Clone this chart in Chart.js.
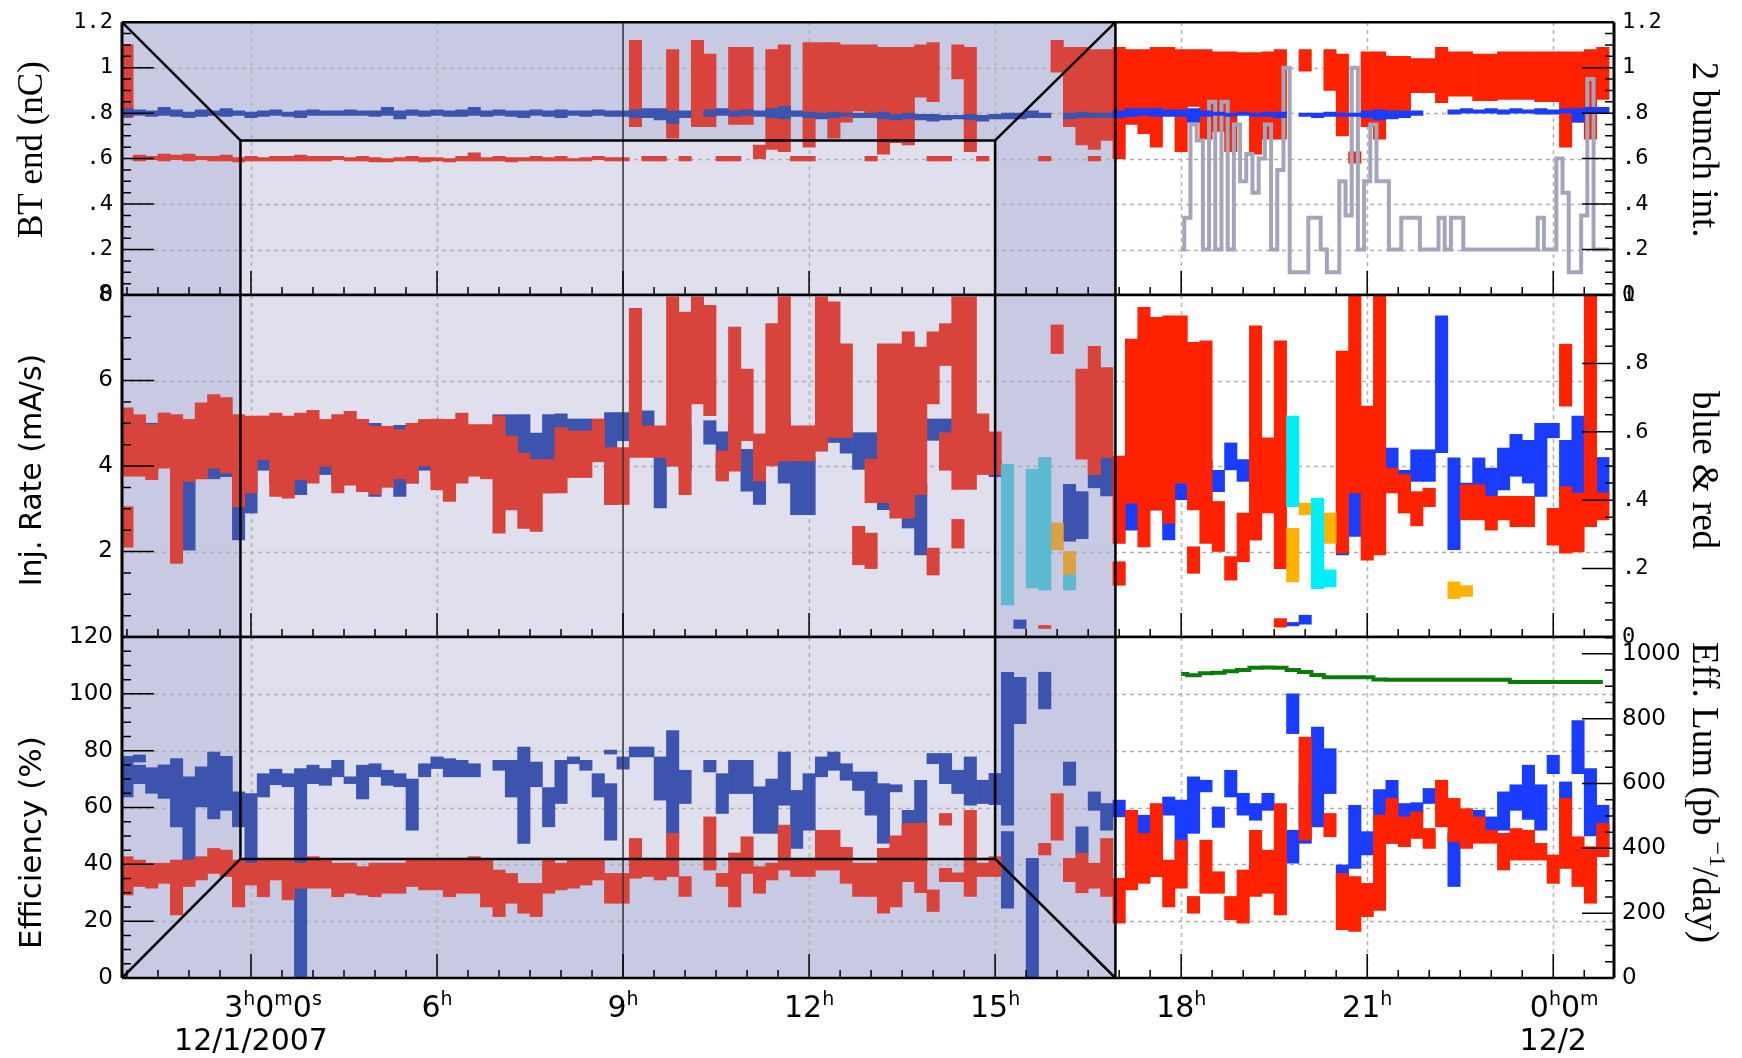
<!DOCTYPE html>
<html>
<head>
<meta charset="utf-8">
<script src="https://cdn.jsdelivr.net/npm/chart.js@4.4.1/dist/chart.umd.min.js"></script>
<style>
html, body { margin: 0; padding: 0; background: #fff; }
#wrap { position: relative; width: 1742px; height: 1058px; }
#wrap canvas { position: absolute; left: 0; top: 0; }
</style>
</head>
<body>
<div id="wrap">
  <canvas id="bt" width="1742" height="1058"></canvas>
  <canvas id="inj" width="1742" height="1058"></canvas>
  <canvas id="eff" width="1742" height="1058"></canvas>
</div>
<script>
// time axis in hours since 0h 12/1 (24 = 0h 12/2)
const tMin = 0.92, tMax = 24.98;
const binStart = 1.0, binStep = 0.2;      // bins are 12 min wide
const splitAt = 16.94;                    // shaded history | white detail view
const boxX = [2.83, 15.0];                // inner face of the 3D box

const timeTicks = [3, 6, 9, 12, 15, 18, 21, 24];
const timeLabels = ['3h0m0s', '6h', '9h', '12h', '15h', '18h', '21h', '0h0m'];
const dateLabels = { 3: '12/1/2007', 24: '12/2' };

// ---- BT end (nC), [low, high] per bin ----
const btRed = [
  [.78,1.10],[.59,.615],[.595,.61],[.59,.62],[.595,.615],[.59,.62],[.595,.61],[.59,.61],[.59,.615],[.585,.605],
  [.59,.61],[.59,.605],[.59,.61],[.59,.61],[.59,.615],[.59,.61],[.59,.61],[.595,.61],[.59,.605],[.59,.61],
  [.585,.605],[.585,.60],[.59,.605],[.59,.61],[.585,.605],[.59,.605],[.585,.60],[.59,.61],[.59,.625],[.59,.605],
  [.59,.61],[.585,.605],[.59,.605],[.59,.61],[.59,.605],[.59,.61],[.59,.60],[.59,.605],[.595,.61],[.59,.605],
  [.59,.605],[.74,1.12],[.59,.61],[.59,.61],[.69,1.08],[.59,.61],[.74,1.12],[.74,1.06],[.59,.61],[.75,1.09],
  [.75,1.09],[.60,.66],[.64,1.08],[.63,1.10],[.59,.61],[.65,1.11],[.78,1.11],[.69,1.11],[.76,1.10],[.81,1.10],
  [.80,1.10],[.62,1.09],[.67,1.09],[.66,1.09],[.87,1.10],[.85,1.11],[.59,.61],[.95,1.10],[.63,1.09],[.59,.61],
  null,null,null,null,[.59,.61],[.98,1.12],[.74,1.09],[.66,1.09],[.64,1.08],[.68,1.08],
  [.60,1.09],[.75,1.08],[.71,1.08],[.65,1.09],[.79,1.09],[.63,1.08],[.83,1.08],[.685,1.08],[.72,1.07],[.63,1.07],
  [.80,1.066],[.62,1.066],[.685,1.07],[.685,1.08],null,[.985,1.08],null,[.90,1.08],[.70,1.06],[.58,.63],
  [.74,1.07],[.685,1.07],[.80,1.05],[.80,1.05],[.89,1.04],[.89,1.04],[.846,1.09],[.875,1.07],[.875,1.07],[.855,1.06],
  [.855,1.06],[.86,1.07],[.86,1.07],[.86,1.07],[.85,1.07],[.85,1.07],[.65,1.07],[.76,1.07],[.685,1.08],[.86,1.09]
];
// extra short pieces that sit under a tall bar in the same bin: [hour, low, high]
const btRedLow = [[10.8,.59,.61],[12.0,.59,.61],[13.0,.59,.61],[14.0,.59,.61],[16.6,.59,.61]];
const btBlue = [
  [.785,.82],[.79,.815],[.785,.81],[.79,.825],[.785,.815],[.78,.805],[.785,.815],[.79,.81],[.785,.82],[.79,.81],
  [.78,.805],[.785,.81],[.79,.815],[.785,.805],[.78,.81],[.79,.815],[.79,.81],[.79,.81],[.79,.815],[.79,.81],
  [.785,.81],[.79,.825],[.775,.81],[.79,.815],[.785,.81],[.79,.815],[.785,.81],[.785,.815],[.79,.825],[.785,.81],
  [.79,.815],[.785,.81],[.78,.81],[.79,.815],[.785,.81],[.78,.815],[.79,.81],[.785,.81],[.79,.815],[.785,.81],
  [.785,.81],[.78,.815],[.78,.82],[.77,.82],[.755,.81],[.78,.81],null,[.785,.815],[.79,.82],[.785,.81],
  [.79,.815],[.785,.81],[.78,.82],[.775,.83],[.785,.81],[.78,.805],[.775,.80],[.78,.805],[.785,.80],[.78,.80],
  [.78,.80],[.775,.805],[.77,.795],[.775,.80],[.77,.795],[.765,.795],[.77,.79],[.775,.79],[.77,.795],[.765,.79],
  [.775,.795],[.775,.80],[.775,.80],[.78,.81],[.78,.80],null,[.775,.80],[.78,.805],[.78,.80],[.78,.80],
  [.78,.81],[.785,.82],[.79,.82],[.785,.82],[.785,.815],[.785,.815],[.76,.82],[.785,.81],[.79,.805],[.785,.80],
  [.79,.805],[.785,.80],[.785,.805],[.78,.805],null,[.785,.80],[.78,.80],[.785,.805],[.785,.80],[.785,.80],
  [.78,.81],[.77,.815],[.775,.81],[.78,.81],[.79,.81],null,null,[.795,.815],[.80,.82],[.80,.815],
  [.80,.82],[.795,.815],[.80,.82],[.80,.815],[.795,.82],[.795,.815],[.80,.82],[.76,.82],[.80,.825],[.80,.825]
];
// 2 bunch intensity, every 6 min from 18h
const bunchStart = 18.0, bunchStep = 0.1;
const bunchInt = [
  .2,.34,.75,.68,.2,.85,.2,.85,.2,.75,
  .5,.62,.45,.6,.75,.2,.55,1.0,.1,.1,
  .1,.34,.34,.2,.1,.1,.5,.35,1.0,.2,
  .5,.75,.5,.5,.2,.2,.34,.34,.34,.2,
  .2,.2,.34,.2,.34,.34,.2,.2,.2,.2,
  .2,.2,.2,.2,.2,.2,.2,.2,.34,.2,
  .2,.6,.45,.1,.1,.35,.95,.2,.2,.2
];

// ---- Inj. Rate (mA/s) ----
const injRed = [
  [3.76,5.36],[3.76,5.2],[3.68,4.97],[3.95,5.24],[1.72,5.2],[3.64,5.09],[3.7,5.48],[3.95,5.67],[3.84,5.6],[3.05,5.2],
  [3.37,5.17],[4.15,5.17],[3.29,5.24],[3.25,5.17],[3.68,5.24],[3.6,5.3],[3.99,5.09],[3.37,5.2],[3.55,5.28],[3.4,5.09],
  [3.33,4.93],[3.5,4.93],[3.7,4.85],[3.6,5.0],[4.0,5.09],[3.44,5.1],[3.17,5.09],[3.6,5.24],[3.76,4.97],[3.7,4.97],
  [2.43,5.17],[2.97,4.7],[2.54,4.3],[2.47,4.15],[3.37,4.15],[3.37,4.9],[3.73,4.82],[3.73,4.82],[4.1,5.1],[3.1,4.43],
  [3.1,4.43],[4.2,7.69],[4.2,4.94],[4.2,4.94],[4.0,7.96],[3.33,7.6],[5.45,7.96],[5.18,7.76],[3.65,4.35],[3.88,7.25],
  [4.59,6.27],[3.65,4.75],[4.0,7.33],[4.12,7.96],[4.12,4.94],[4.12,4.94],[4.35,7.96],[4.67,7.84],[4.67,6.86],[1.69,2.59],
  [1.6,2.43],[3.14,6.86],[2.78,6.86],[2.78,7.14],[3.33,6.78],[5.45,7.14],[6.35,7.33],[3.45,7.96],[3.45,7.96],[3.8,5.22],
  [3.8,4.8],null,null,null,null,[6.63,7.3],null,[4.16,6.27],[3.8,6.8],[4.2,6.3],
  [2.19,4.23],[3.13,6.97],[2.11,7.71],[2.97,7.48],[2.66,7.51],[3.6,7.51],[2.97,6.89],[2.19,6.93],[2.0,3.17],[1.33,1.88],
  [1.76,2.9],[2.27,7.28],[2.9,4.66],[1.6,6.93],null,null,null,null,[1.96,6.69],[3.37,8.0],
  [1.8,5.4],[1.92,8.0],[3.37,3.95],[2.9,3.8],[2.6,3.4],[3.05,3.48],null,null,[2.74,3.56],[2.74,3.56],
  [2.5,3.29],[2.74,3.29],[2.58,3.29],[2.58,3.29],null,[2.15,3.01],[1.96,3.52],[1.99,3.37],[2.58,8.0],[2.74,3.37]
];
const injRedExtra = [[1.0,2.1,3.05],[13.0,3.14,4.16],[14.0,1.45,2.08],[14.2,3.9,4.78],[14.4,2.08,2.75],
  [15.8,0.2,0.27],[17.0,1.21,1.76],[18.2,1.49,2.11],[19.6,0.23,0.43],[24.2,5.4,6.85]];
const injBlue = [
  [4.03,5.24],[4.0,5.1],[3.9,5.0],[4.0,5.0],[3.4,5.0],[2.03,4.9],[3.8,4.9],[3.7,4.58],[3.75,4.7],[2.27,4.4],
  [2.9,4.2],[3.9,4.9],[3.6,4.9],[3.33,4.8],[3.33,4.9],[3.8,4.9],[3.8,4.9],[3.6,4.9],[3.7,4.9],[3.5,5.0],
  [3.29,5.0],[3.6,4.9],[3.29,4.95],[3.6,4.9],[3.9,5.0],[3.7,5.0],[3.4,5.05],[3.7,4.9],[3.8,4.9],[3.8,4.9],
  [3.9,5.2],[4.1,5.2],[2.97,5.2],[3.37,4.77],[3.37,5.2],[4.12,5.22],[4.12,5.1],[4.12,5.1],[4.1,5.09],[3.1,5.25],
  [4.59,5.25],[4.9,5.29],[4.9,5.29],[3.02,4.82],[4.0,4.5],[3.9,4.9],null,[4.51,5.06],[3.7,4.8],[4.3,4.95],
  [3.41,4.39],[3.1,3.92],null,[3.6,5.06],[2.86,4.2],[2.86,4.2],[4.35,4.94],[4.55,4.94],[4.3,4.9],[3.92,4.78],
  [3.92,4.78],[2.98,4.5],[3.3,4.2],[2.55,3.8],[1.92,3.57],[4.6,5.1],[4.6,5.1],[3.9,4.78],[3.9,4.78],null,
  [3.75,4.1],null,[0.2,0.4],null,null,null,[2.24,3.57],[2.3,3.4],[3.49,4.24],[3.3,4.2],
  [3.48,3.91],[2.5,4.03],[2.97,4.11],[2.97,3.9],[2.27,4.23],[3.21,3.76],[3.37,4.62],[3.0,4.15],[3.4,3.9],[3.91,4.54],
  [3.64,4.15],[2.27,3.91],null,[3.9,4.05],[0.26,0.34],[0.3,0.51],null,null,[1.92,3.68],[2.35,4.11],
  [2.97,3.76],[2.15,3.72],[3.41,4.42],[2.97,3.9],[3.64,4.38],[3.64,4.38],[4.31,7.51],[2.04,4.19],[2.9,3.6],[3.3,4.19],
  [3.29,3.95],[3.44,4.42],[3.76,4.74],[3.6,4.6],[3.29,5.0],[4.66,5.0],[3.3,4.6],[3.3,5.17],[3.3,4.3],[3.3,4.2]
];
const injCyan = [[15.2,0.75,4.04],[15.6,1.15,3.92],[15.8,1.1,4.2],[16.2,1.1,1.45],
  [19.8,3.05,5.17],[20.2,1.13,3.25],[20.4,1.17,1.57]];
const injOrange = [[16.0,2.04,2.67],[16.2,1.33,2.0],[19.8,1.29,2.54],[20.0,2.86,3.13],
  [20.4,2.19,2.9],[22.4,0.9,1.29],[22.6,0.95,1.2]];

// ---- Efficiency (%) ----
const effBlue = [
  [63.7,78],[68.4,74.9],[65,74],[63.2,75],[53.2,77.2],[41.5,70.8],[60.2,74.3],[56,79.5],[59,78],[53.2,65.5],
  [36.8,64.9],[63.7,71.9],[68,73.5],[67.3,71.9],[0,73.7],[68.4,74.9],[67.8,73.7],[70.8,76.6],[68.4,70.8],[63,74.9],
  [70.8,75.4],[67.8,73.1],[67.3,71.9],[52,70],[70.8,75.4],[73.7,77.8],[70.8,77.2],[70.8,76.6],[70.8,75.4],null,
  [73.1,76.6],[63.7,76.6],[47.4,81.3],[67.3,76],[53.2,67],[61.4,76.6],[75.4,77.8],[73.1,76.6],[63.7,71.9],[48.5,68.4],
  [73.5,77.8],[77.8,81.3],[77.8,81.3],[62.6,77.8],[49,87.1],[61.4,73.1],null,[72.5,76.6],[57.9,71.9],[64.9,76.6],
  [64.9,76.6],[50.9,67.3],[50.9,70],[60.8,79.5],[45.6,66],[52,71.9],[70.8,77.8],[73.1,79.5],[69.6,75.4],[66,72.5],
  [57.3,72.5],[47.4,68.4],[65.5,68],[49.7,59],[40.4,69.6],[75.4,79],[68.4,79],[64.9,73.1],[60.8,77.8],[61.4,69.6],
  [61,72],[53.8,107.6],[89.5,105.8],[0,42.1],[94.7,107.6],null,[67.8,76],[43.9,53.2],[59,65.5],[52,61.4],
  [56.7,62.6],[47.4,58],[49.7,57.3],[35.7,52],[57.3,63.7],[40.4,62.6],[50.9,70.8],[65.5,69.6],[53,60.2],[63.7,73.1],
  [57.3,65],[55.5,61.4],[59,65],null,[86,100],[47.4,69],[53.2,88.3],[64.9,80.7],[32,39.8],[38.6,60.8],
  [43.3,51.5],[55.8,66.3],[47.4,69.6],[55.5,61.4],[58,61.7],[61.4,66.7],null,[32.2,50.9],[47.4,50.9],[52,59],
  [49.7,56.7],[52,65.5],[59,68],[55.8,74.9],[52,68],[71.9,78.4],[52,69],[71.9,90.6],[50,73.7],[46,60.8]
];
const effBlueExtra = [[1.2,76,78.5],[8.8,78.8,80.2],[15.2,24.6,51.5],[19.8,40.4,52]];
const effRed = [
  [29.2,42.7],[32.2,41.5],[31.6,40.4],[33.3,40.4],[22.2,41.5],[32.2,41.5],[34.5,42.7],[36.8,45.6],[35.7,45],[25,41.5],
  [32.7,40.4],[28.6,41.5],[34.5,41.5],[27.5,41.5],[31.6,40.4],[31.6,42.7],[31.6,41.5],[28.6,40.4],[29.8,40.4],[29.2,39.2],
  [28.6,40.4],[29.8,40.4],[29.8,40.4],[32.2,41.5],[31,41.5],[31,41.5],[28.6,41.5],[29.8,41.5],[29.8,42.7],[25,41.5],
  [21.6,38],[26.3,36.8],[22.8,33.3],[21.6,33.3],[29.8,41.5],[31,40.4],[31.6,41.5],[32.7,41.5],[34.5,41.5],[26.3,36.8],
  [26.3,36.8],[35.1,49.1],[35.7,41.5],[34.5,41.5],[35.7,50.9],[28.7,35.7],null,[38,56.7],[32.2,36.8],[25,44],
  [36.8,49.7],[29.8,39.2],[34.5,40.4],[38,53.8],[35.7,41.5],[35.7,41.5],[38,52],[38,52],[33.3,46],[28.7,40.4],
  [28.7,40.4],[22.8,45.6],[25,50],[33.9,54.4],[30,54.4],[23.4,31],[33.9,38.6],[33.9,37],[28.7,59],[35.7,40.4],
  [35.7,42.7],null,null,null,[43.3,47.4],[48.5,64.9],[33.9,42.1],[30,43.9],[31.6,40.4],[28.7,49.1],
  [19.3,35.1],[31,59],[33.3,50.9],[35.7,61.4],[25,41.5],[31.6,48.5],[22.8,28.7],[29.8,48.5],[29.8,37.4],[20.5,28.7],
  [19.3,38],[28.7,52],[29.8,45],[22.2,61.4],null,[48.5,84.8],null,[49.7,57.9],[17,36.8],[16.4,35.7],
  [21.6,33.3],[23.8,57.3],[47.4,63.2],[46.2,56.7],[49.1,58.5],[45.6,52.6],[53.2,69.6],[47.9,63.2],[45.6,59.6],[47.4,56.7],
  [47.4,52],[38,50.9],[41.5,52.6],[41.5,52],[41.5,47.4],[33.3,43.3],[38.6,63.2],[32.2,49.7],[26.3,46.2],[42.7,54.4]
];
const effRedExtra = [[14.2,53.8,57.9]];
// Eff. Lum (pb^-1/day), one value per bin from 18h
const lumStart = 18.0;
const effLum = [938,934,940,942,946,950,957,958,957,950,944,935,928,928,928,928,921,920,920,920,
  920,920,920,920,920,920,920,913,913,913,913,913,913,913,913];

// colours: [under the shaded history, in the white detail view]
const RED = ['#d8443b', '#ff2200'];
const BLUE = ['#3c54ad', '#1a3cff'];
const CYAN = ['#5db8d2', '#00eef8'];
const ORANGE = ['#daa145', '#ffb300'];
const GREY = '#a4a5ba', GREEN = '#0b7b0b';
const SHADE_OUT = '#c8c9e2', SHADE_IN = '#dfdfee';

const binT = i => +(binStart + i * binStep).toFixed(2);
function binned(list) {
  const out = [];
  list.forEach((r, i) => { if (r) out.push({ x: binT(i), y: r }); });
  return out;
}
const pieces = list => list.map(r => ({ x: r[0], y: [r[1], r[2]] }));
const tone = pair => ctx => (ctx.raw && ctx.raw.x < splitAt) ? pair[0] : pair[1];

function barSet(data, pair, order, yAxisID) {
  return {
    type: 'bar', data, order, yAxisID: yAxisID || 'y', grouped: false, clip: 0,
    barPercentage: 1, categoryPercentage: 1, borderWidth: 0,
    backgroundColor: tone(pair)
  };
}
function stepLine(data, color, order, yAxisID) {
  return {
    type: 'line', data, order, yAxisID: yAxisID || 'y', borderColor: color, borderWidth: 4,
    pointRadius: 0, stepped: 'middle', fill: false, clip: 0
  };
}

// per panel decoration
const decor = {
  bt:  { inner: [0, 0.68], diag: 'top', yMinor: 0.05, yMajor: 0.2, y2Minor: 0.05, y2Major: 0.2,
         left: ['BT end (nC)', '35px "Liberation Serif"', -9],
         right: [[['2 bunch int.', 0]], '37px "Liberation Serif"', -9] },
  inj: { inner: [0, 8], diag: null, yMinor: 0.5, yMajor: 2, y2Minor: 0.05, y2Major: 0.2,
         left: ['Inj. Rate (mA/s)', '30px "DejaVu Sans"', 4],
         right: [[['blue & red', 0]], '37px "Liberation Serif"', 4] },
  eff: { inner: [41.9, 120], diag: 'bottom', yMinor: 5, yMajor: 20, y2Minor: 50, y2Major: 200, xLabels: true,
         left: ['Efficiency (%)', '31px "DejaVu Sans"', 35],
         right: [[['Eff. Lum (pb', 0], [' \u22121', 1], ['/day)', 0]], '37px "Liberation Serif"', -15] }
};

function seg(ctx, x1, y1, x2, y2) { ctx.moveTo(x1, y1); ctx.lineTo(x2, y2); }

function richWidth(ctx, parts, big, small) {
  let w = 0;
  parts.forEach(([s, sup]) => { ctx.font = sup ? small : big; w += ctx.measureText(s).width; });
  return w;
}
function drawRich(ctx, parts, cx, base, big, small, rise) {
  let x = cx - richWidth(ctx, parts, big, small) / 2;
  parts.forEach(([s, sup]) => {
    ctx.font = sup ? small : big;
    ctx.fillText(s, x, base - (sup ? rise : 0));
    x += ctx.measureText(s).width;
  });
}

function yTicks(ctx, scale, a, onLeft, minor, major) {
  const every = Math.round(major / minor);
  for (let k = 1; k * minor < scale.max - 1e-6; k++) {
    const py = scale.getPixelForValue(k * minor);
    const len = k % every === 0 ? 32 : 9;
    if (onLeft) seg(ctx, a.left, py, a.left + len, py);
    else seg(ctx, a.right, py, a.right - len, py);
  }
}

const framePlugin = {
  id: 'frame',
  beforeDraw(chart) {
    const d = decor[chart.canvas.id];
    const { ctx, chartArea: a } = chart;
    const x = chart.scales.x, y = chart.scales.y;
    const xs = x.getPixelForValue(splitAt);
    const xi1 = x.getPixelForValue(boxX[0]), xi2 = x.getPixelForValue(boxX[1]);
    const yTop = y.getPixelForValue(d.inner[1]), yBot = y.getPixelForValue(d.inner[0]);
    ctx.save();
    ctx.fillStyle = '#fff';
    ctx.fillRect(a.left, a.top, a.width, a.height);
    ctx.fillStyle = SHADE_OUT;
    ctx.fillRect(a.left, a.top, xs - a.left, a.height);
    ctx.fillStyle = SHADE_IN;
    ctx.fillRect(xi1, yTop, xi2 - xi1, yBot - yTop);
    ctx.restore();
  },
  beforeDatasetsDraw(chart) {
    const d = decor[chart.canvas.id];
    const { ctx, chartArea: a } = chart;
    const x = chart.scales.x, y = chart.scales.y;
    ctx.save();
    ctx.strokeStyle = '#b0b0b0';
    ctx.lineWidth = 1.5;
    ctx.setLineDash([4, 4]);
    ctx.beginPath();
    timeTicks.forEach(t => {
      if (t === 9) return;
      const px = Math.round(x.getPixelForValue(t)) + 0.5;
      seg(ctx, px, a.top, px, a.bottom);
    });
    for (let k = 1; k * d.yMajor < y.max - 1e-6; k++) {
      const py = Math.round(y.getPixelForValue(k * d.yMajor)) + 0.5;
      seg(ctx, a.left, py, a.right, py);
    }
    ctx.stroke();
    ctx.restore();
  },
  afterDatasetsDraw(chart) {
    const d = decor[chart.canvas.id];
    const { ctx, chartArea: a } = chart;
    const x = chart.scales.x, y = chart.scales.y, y2 = chart.scales.y2;
    const xs = x.getPixelForValue(splitAt);
    const xi1 = x.getPixelForValue(boxX[0]), xi2 = x.getPixelForValue(boxX[1]);
    const yTop = y.getPixelForValue(d.inner[1]), yBot = y.getPixelForValue(d.inner[0]);
    ctx.save();
    // 9h marker
    ctx.strokeStyle = '#333';
    ctx.lineWidth = 1.5;
    ctx.beginPath();
    const p9 = x.getPixelForValue(9);
    seg(ctx, p9, a.top, p9, a.bottom);
    ctx.stroke();

    // the 3D box
    ctx.strokeStyle = '#000';
    ctx.lineWidth = 2.5;
    ctx.beginPath();
    seg(ctx, xi1, yTop, xi1, yBot);
    seg(ctx, xi2, yTop, xi2, yBot);
    if (d.diag === 'top') {
      seg(ctx, xi1, yTop, xi2, yTop);
      seg(ctx, a.left, a.top, xi1, yTop);
      seg(ctx, xs, a.top, xi2, yTop);
    } else if (d.diag === 'bottom') {
      seg(ctx, xi1, yBot, xi2, yBot);
      seg(ctx, a.left, a.bottom, xi1, yBot);
      seg(ctx, xs, a.bottom, xi2, yBot);
    }
    seg(ctx, xs, a.top, xs, a.bottom);
    seg(ctx, a.left, a.top, a.right, a.top);
    seg(ctx, a.left, a.bottom, a.right, a.bottom);
    ctx.stroke();
    ctx.lineWidth = 3;
    ctx.beginPath();
    seg(ctx, a.left, a.top, a.left, a.bottom);
    seg(ctx, a.right, a.top, a.right, a.bottom);
    ctx.stroke();

    // inward ticks
    ctx.lineWidth = 1.5;
    ctx.beginPath();
    yTicks(ctx, y, a, true, d.yMinor, d.yMajor);
    yTicks(ctx, y2, a, false, d.y2Minor, d.y2Major);
    for (let t = Math.ceil(tMin * 2) / 2; t < tMax; t += 0.5) {
      const px = x.getPixelForValue(t);
      seg(ctx, px, a.bottom, px, a.bottom - (t % 3 === 0 ? 24 : 8));
    }
    ctx.stroke();
    ctx.restore();
  },
  afterDraw(chart) {
    const d = decor[chart.canvas.id];
    const { ctx, chartArea: a } = chart;
    const midY = (a.top + a.bottom) / 2;
    ctx.save();
    ctx.fillStyle = '#000';
    ctx.textBaseline = 'middle';
    ctx.textAlign = 'center';
    // left title
    ctx.save();
    ctx.translate(33, midY + d.left[2]);
    ctx.rotate(-Math.PI / 2);
    ctx.font = d.left[1];
    ctx.fillText(d.left[0], 0, 0);
    ctx.restore();
    // right title (reads downwards)
    ctx.save();
    ctx.translate(1703, midY + d.right[2]);
    ctx.rotate(Math.PI / 2);
    ctx.textAlign = 'left';
    drawRich(ctx, d.right[0], 0, 0, d.right[1], '24px "Liberation Serif"', 13);
    ctx.restore();

    if (d.xLabels) {
      const x = chart.scales.x;
      const big = '30px "DejaVu Sans"', small = '19px "DejaVu Sans"';
      ctx.textAlign = 'left';
      ctx.textBaseline = 'alphabetic';
      timeTicks.forEach((t, i) => {
        const parts = timeLabels[i].match(/\d+|[a-z]+/g).map(s => [s, /[a-z]/.test(s)]);
        const nums = parts.filter(p => !p[1]).length;
        const px = x.getPixelForValue(t);
        drawRich(ctx, parts, px + (nums - 1) * 11, a.bottom + 39, big, small, 12);
        if (dateLabels[t]) drawRich(ctx, [[dateLabels[t], 0]], px, a.bottom + 72, big, small, 0);
      });
    }
    ctx.restore();
  }
};

Chart.defaults.color = '#000';
Chart.defaults.font.family = '"DejaVu Sans", sans-serif';

const dotFmt = v => {
  const s = Number(v).toFixed(1);
  if (s === '0.0') return '0';
  if (s === '1.0') return '1';
  return s.replace(/^0/, '');
};
const monoFont = { family: '"DejaVu Sans Mono"', size: 22 };
const sansFont = { family: '"DejaVu Sans"', size: 23 };

function yAxis(pos, min, max, step, font, fmt, moreTicks) {
  return {
    type: 'linear', position: pos, min, max,
    afterFit: s => { s.width = pos === 'left' ? 122 : 128; },
    grid: { display: false, drawTicks: false },
    border: { display: false },
    ticks: Object.assign({ stepSize: step, padding: pos === 'left' ? 9 : 8, font, callback: fmt, autoSkip: false }, moreTicks || {})
  };
}
function xAxis(h) {
  return {
    type: 'linear', min: tMin, max: tMax, offset: false,
    afterFit: s => { s.height = h; },
    grid: { display: false, drawTicks: false },
    border: { display: false },
    ticks: { display: false, stepSize: 3, includeBounds: false }
  };
}
function makeChart(id, padTop, padBottom, xh, y, y2, datasets) {
  return new Chart(document.getElementById(id), {
    type: 'bar',
    data: { datasets },
    options: {
      responsive: false, animation: false, devicePixelRatio: 1,
      layout: { padding: { top: padTop, bottom: padBottom, left: 0, right: 0 } },
      plugins: { legend: { display: false }, tooltip: { enabled: false } },
      scales: { x: xAxis(xh), y, y2 }
    },
    plugins: [framePlugin]
  });
}

const bunchData = bunchInt.map((v, i) => ({ x: +(bunchStart + i * bunchStep).toFixed(2), y: v }));
const lumData = effLum.map((v, i) => ({ x: +(lumStart + i * binStep).toFixed(2), y: v }));

makeChart('bt', 22, 1058 - 295, 0,
  yAxis('left', 0, 1.2, 0.2, monoFont, dotFmt),
  yAxis('right', 0, 1.2, 0.2, monoFont, dotFmt),
  [
    barSet(binned(btRed), RED, 4),
    barSet(pieces(btRedLow), RED, 4),
    stepLine(bunchData, GREY, 2),
    barSet(binned(btBlue), BLUE, 1)
  ]);

makeChart('inj', 295, 1058 - 637, 0,
  yAxis('left', 0, 8, 2, sansFont, v => v === 0 ? '' : String(v)),
  yAxis('right', 0, 1, 0.2, monoFont, dotFmt),
  [
    barSet(binned(injBlue), BLUE, 4),
    barSet(binned(injRed), RED, 3),
    barSet(pieces(injRedExtra), RED, 3),
    barSet(pieces(injCyan), CYAN, 1),
    barSet(pieces(injOrange), ORANGE, 1)
  ]);

makeChart('eff', 637, 0, 80,
  yAxis('left', 0, 120, 20, sansFont, v => String(v)),
  yAxis('right', 0, 1052, 200, sansFont, v => String(v), { includeBounds: false }),
  [
    barSet(binned(effBlue), BLUE, 4),
    barSet(pieces(effBlueExtra), BLUE, 4),
    barSet(binned(effRed), RED, 3),
    barSet(pieces(effRedExtra), RED, 3),
    stepLine(lumData, GREEN, 1, 'y2')
  ]);
</script>
</body>
</html>
